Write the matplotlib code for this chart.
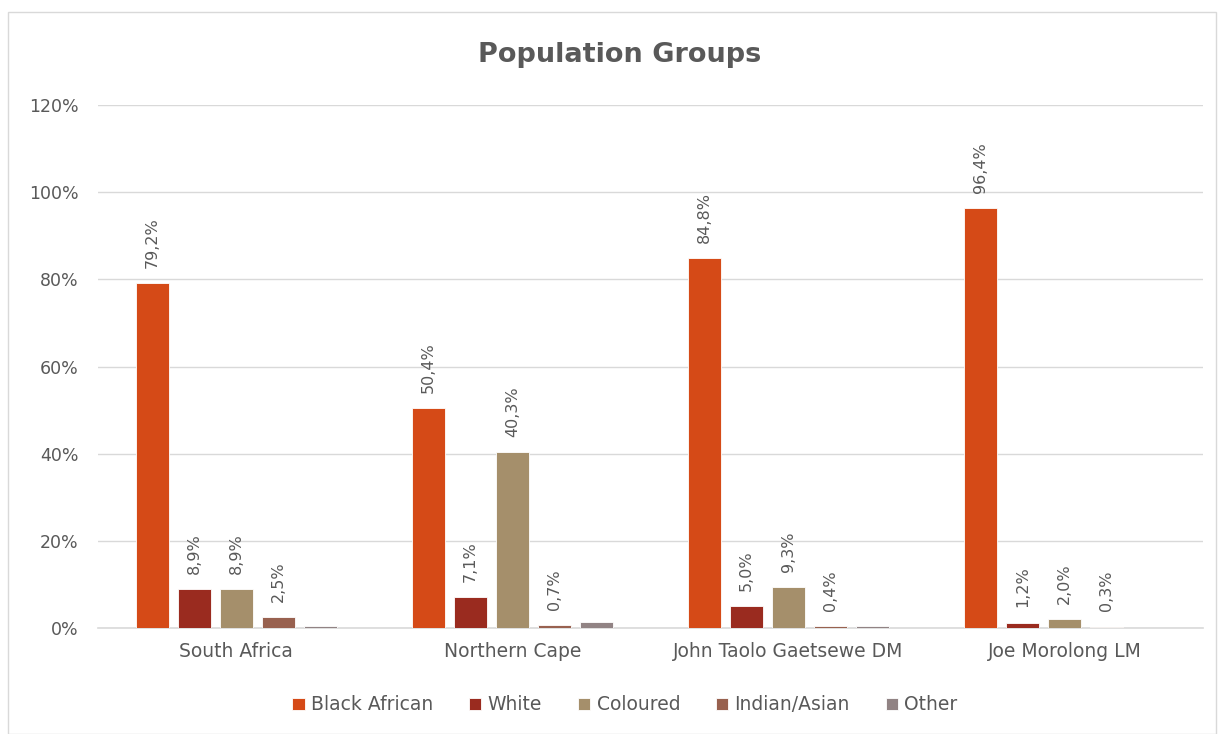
import matplotlib
matplotlib.use("Agg")
import matplotlib.pyplot as plt
import numpy as np
from matplotlib.patches import Rectangle

categories = ["South Africa", "Northern Cape", "John Taolo Gaetsewe DM", "Joe Morolong LM"]
series_names = ["Black African", "White", "Coloured", "Indian/Asian", "Other"]
black_african = [79.2, 50.4, 84.8, 96.4]
white = [8.9, 7.1, 5.0, 1.2]
coloured = [8.9, 40.3, 9.3, 2.0]
indian_asian = [2.5, 0.7, 0.4, 0.3]
other = [0.5, 1.4, 0.5, 0.1]
show_labels = [True, True, True, True, False]
colors = ["#D54A17", "#9A2B1F", "#A58F6B", "#98614F", "#918384"]

series = [black_african, white, coloured, indian_asian, other]

plt.rcParams['font.family'] = ['DejaVu Sans']
txt = "#595959"

fig = plt.figure(figsize=(12.18, 7.34), dpi=100)
ax = fig.add_axes([98/1218, 1-628/734, (1203-98)/1218, (628-105)/734])

x = np.arange(len(categories))
pitch = 0.152
width = 0.12
for i, (name, vals, col) in enumerate(zip(series_names, series, colors)):
    pos = x + (i - 2) * pitch
    ax.bar(pos, vals, width=width, color=col, label=name, zorder=3,
           edgecolor="white", linewidth=0.6)
    if show_labels[i]:
        for p, v in zip(pos, vals):
            ax.annotate(f"{v:.1f}%".replace(".", ","), (p, v), xytext=(0, 11),
                        textcoords="offset points", rotation=90, ha="center",
                        va="bottom", fontsize=11.5, color=txt)

ax.set_ylim(0, 120)
ax.set_xlim(-0.5, len(categories) - 0.5)
ax.set_yticks(np.arange(0, 121, 20))
ax.set_yticklabels([f"{t}%" for t in range(0, 121, 20)])
ax.set_xticks(x)
ax.set_xticklabels(categories)
ax.tick_params(axis="both", length=0, colors=txt)
ax.tick_params(axis="y", pad=14, labelsize=12.5)
ax.tick_params(axis="x", pad=10, labelsize=13.5)
ax.grid(axis="y", color="#D9D9D9", linewidth=1, zorder=0)
for s in ["top", "right", "left"]:
    ax.spines[s].set_visible(False)
ax.spines["bottom"].set_color("#D9D9D9")
ax.spines["bottom"].set_linewidth(1.2)

fig.text(620/1218, 1-55/734, "Population Groups", ha="center", va="center",
         fontsize=19.5, fontweight="bold", color=txt)

leg = fig.legend(loc="center", bbox_to_anchor=(625/1218, 1-705/734), ncol=5,
                 frameon=False, fontsize=13.5, handlelength=0.65, handleheight=0.65,
                 handletextpad=0.35, columnspacing=1.9)
for t in leg.get_texts():
    t.set_color(txt)

fig.patches.append(Rectangle((8/1218, 0), 1208/1218, 1-12/734, transform=fig.transFigure,
                             fill=False, edgecolor="#D9D9D9", linewidth=1))

fig.savefig("out.png", dpi=100)
